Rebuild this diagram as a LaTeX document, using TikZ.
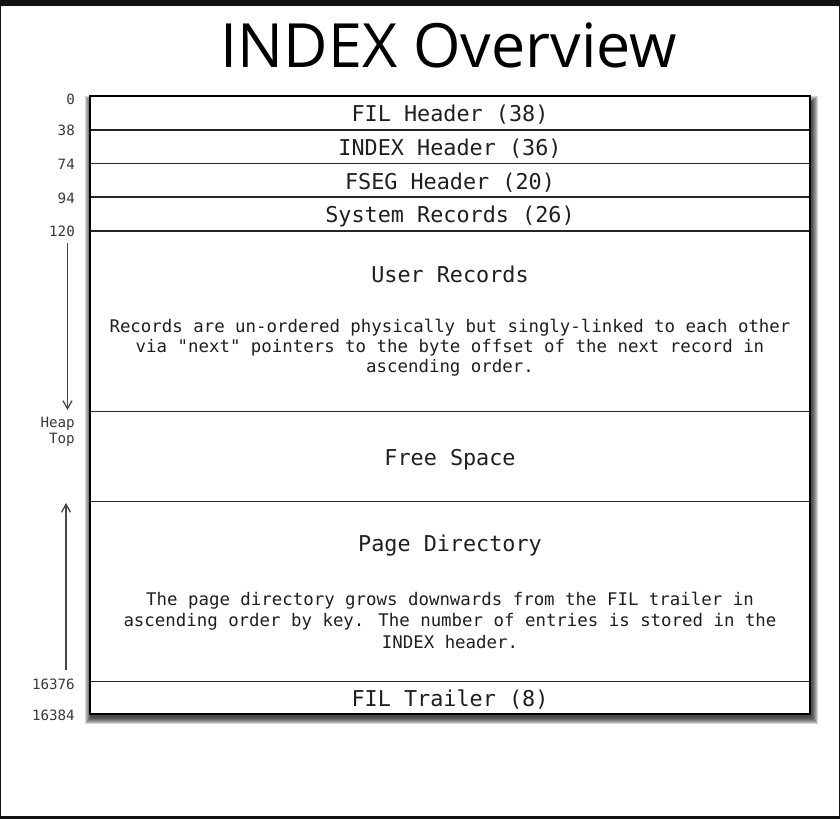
\documentclass[tikz,border=0pt]{standalone}
\usepackage{fontspec}
\setmainfont{Open Sans}
\newfontfamily\monofam{DejaVu Sans Mono}
\usetikzlibrary{arrows.meta}
\begin{document}
\begin{tikzpicture}[x=1pt,y=-1pt,
  frame/.style={fill=black!93},
  pagebox/.style={draw=black,line width=1.5pt,fill=white},
  divider/.style={draw=black!85,line width=1.1pt},
  hdr/.style={font=\monofam\fontsize{21.8}{24}\selectfont,text=black!88,inner sep=0pt},
  body/.style={font=\monofam\fontsize{17.4}{20}\selectfont,text=black!88,align=center,inner sep=0pt},
  offs/.style={font=\monofam\fontsize{14.2}{16}\selectfont,text=black!78,anchor=east,inner sep=0pt,align=right},
  growarrow/.style={draw=black!72,line width=1.1pt,-{Straight Barb[length=8pt,width=9pt,line width=1.3pt]}}
]
\useasboundingbox (0,0) rectangle (840,819);
% outer frame
\fill[frame] (0,0) rectangle (840,5.5);
\fill[frame] (0,815.5) rectangle (840,819);
\fill[frame] (0,0) rectangle (1.2,819);
\fill[frame] (838.8,0) rectangle (840,819);
% title
\node[font=\fontsize{61}{64}\selectfont,inner sep=0pt] (title) at (449,45) {INDEX Overview};
% shadow
\foreach \r in {0,1,...,6}{
  \fill[black,opacity=0.16] (91-\r,102-\r) rectangle (812+\r,718+\r);
}
% page box
\path[pagebox] (90,96) rectangle (810,714);
\foreach \yy in {130,163.7,197,231,411.7,501.7,681.7}{
  \draw[divider] (90,\yy) -- (810,\yy);
}
\draw[black,line width=1.5pt] (90,96) rectangle (810,714);
% section texts
\node[hdr] (fil) at (450,115) {FIL Header (38)};
\node[hdr] (idx) at (450,149) {INDEX Header (36)};
\node[hdr] (fseg) at (450,182.5) {FSEG Header (20)};
\node[hdr] (sys) at (450,216) {System Records (26)};
\node[hdr] (user) at (450,274.5) {User Records};
\node[body] (userdesc) at (450,348) {Records are un-ordered physically but singly-linked to each other\\via "next" pointers to the byte offset of the next record in\\ascending order.};
\node[hdr] (free) at (450,459.5) {Free Space};
\node[hdr] (pdir) at (450,546) {Page Directory};
\node[body,font=\monofam\fontsize{17.4}{21.5}\selectfont] (pdirdesc) at (450,620) {The page directory grows downwards from the FIL trailer in\\ascending order by key. The number of entries is stored in the\\INDEX header.};
\node[hdr] (trail) at (450,700) {FIL Trailer (8)};
% offsets
\node[offs] (o0) at (75,99) {0};
\node[offs] (o38) at (75,130.5) {38};
\node[offs] (o74) at (75,164.5) {74};
\node[offs] (o94) at (75,198.5) {94};
\node[offs] (o120) at (75,231) {120};
\node[offs] (heap) at (75,432) {Heap\\Top};
\node[offs] (o16376) at (75,684) {16376};
\node[offs] (o16384) at (75,715) {16384};
% growth arrows
\coordinate (dtop) at (67.5,243);
\coordinate (dbot) at (67.5,410);
\coordinate (utop) at (66,503);
\coordinate (ubot) at (66,670);
\draw[growarrow] (dtop) -- (dbot);
\draw[growarrow] (ubot) -- (utop);
\end{tikzpicture}
\end{document}
